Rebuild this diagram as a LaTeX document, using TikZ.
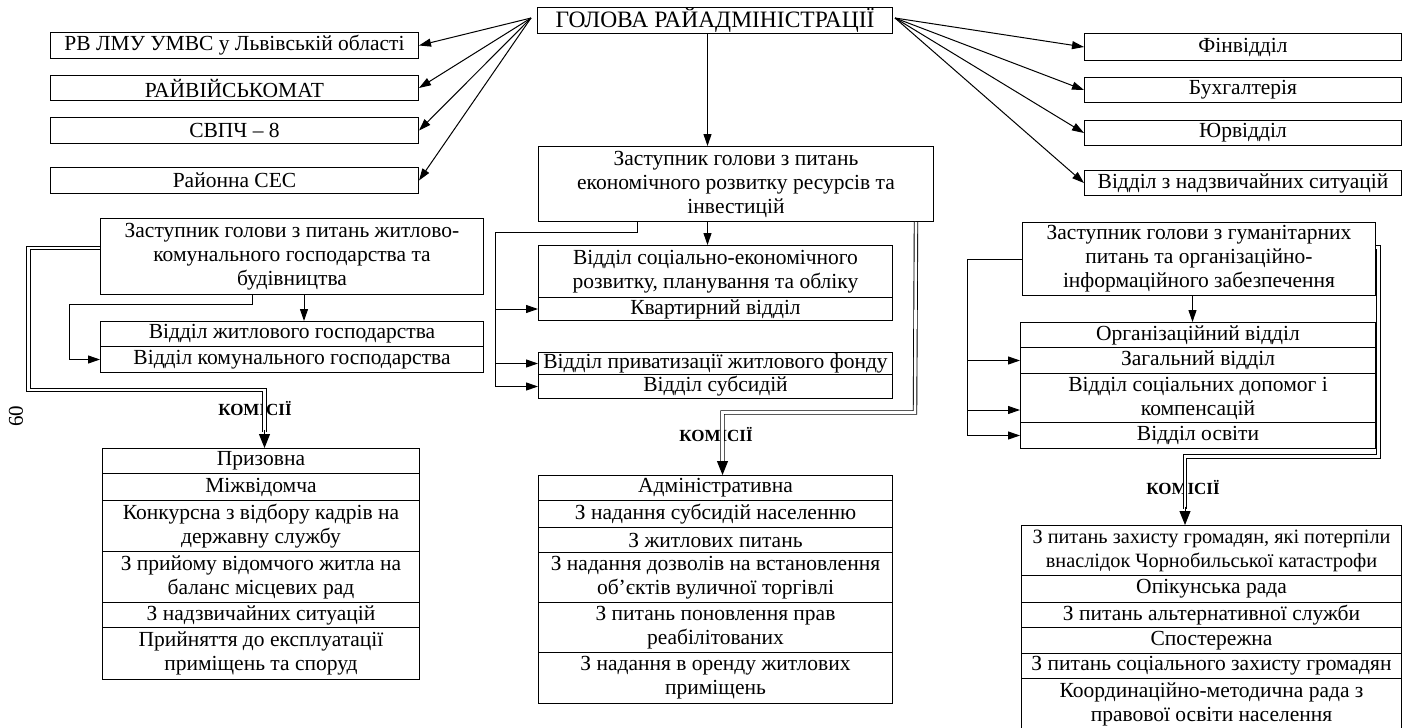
\documentclass[tikz,border=0pt]{standalone}
\usepackage{fontspec}
\setmainfont{Liberation Serif}
\usetikzlibrary{arrows.meta,calc}
\newcommand{\myfs}{\fontsize{21.5}{24}\selectfont}
\newcommand{\mysmall}{\fontsize{20.3}{24}\selectfont}
\newcommand{\bx}[6]{\node[box,minimum width=#4pt,minimum height=#5pt] (#1) at (#2,#3) {#6};}
\begin{document}
\begin{tikzpicture}[x=1pt,y=-1pt,
  box/.style={draw, line width=1pt, inner sep=0pt, align=center, anchor=north west, font=\myfs},
  ln/.style={line width=1pt},
  arr/.style={line width=1pt, -{Triangle[length=12pt,width=8pt]}},
  bigarr/.style={line width=1pt, -{Triangle[length=14pt,width=11pt]}},
  dbl/.style={double, double distance=2.6pt, line width=0.9pt},
  kom/.style={font=\bfseries\fontsize{17}{18}\selectfont, inner sep=0pt}
]
\useasboundingbox (0,0) rectangle (1403,728);
\fill[white] (0,0) rectangle (1403,728);

% head
\bx{head}{537}{7}{355}{26}{\fontsize{23.5}{24}\selectfont ГОЛОВА РАЙАДМІНІСТРАЦІЇ}
% left column
\bx{L1}{50}{32}{368}{26}{РВ ЛМУ УМВС у Львівській області}
\bx{L2}{50}{75}{368}{25}{РАЙВІЙСЬКОМАТ}
\bx{L3}{50}{117}{368}{26}{СВПЧ – 8}
\bx{L4}{50}{167}{368}{26}{Районна СЕС}
% right column
\bx{R1}{1084}{33}{317}{27}{Фінвідділ}
\bx{R2}{1084}{77}{317}{25}{Бухгалтерія}
\bx{R3}{1084}{120}{317}{25}{Юрвідділ}
\bx{R4}{1084}{170}{317}{25}{Відділ з надзвичайних ситуацій}

% deputies
\bx{D1}{100}{218}{383}{76}{Заступник голови з питань житлово-\\комунального господарства та\\будівництва}
\bx{D2}{538}{146}{395}{75}{Заступник голови з питань\\економічного розвитку ресурсів та\\інвестицій}
\bx{D3}{1022}{222}{353}{73}{Заступник голови з гуманітарних\\питань та організаційно-\\інформаційного забезпечення}

% left departments
\bx{J1}{100}{321}{383}{25}{Відділ житлового господарства}
\bx{J2}{100}{346}{383}{26}{Відділ комунального господарства}
% centre departments
\bx{E1}{538}{245}{354}{52}{Відділ соціально-економічного\\розвитку, планування та обліку}
\bx{E2}{538}{297}{354}{23}{Квартирний відділ}
\bx{E3}{538}{352}{354}{22}{Відділ приватизації житлового фонду}
\bx{E4}{538}{374}{354}{24}{Відділ субсидій}
% right departments
\bx{H1}{1020}{322}{355}{25}{Організаційний відділ}
\bx{H2}{1020}{347}{355}{26}{Загальний відділ}
\bx{H3}{1020}{373}{355}{49}{Відділ соціальних допомог і\\компенсацій}
\bx{H4}{1020}{422}{355}{26}{Відділ освіти}

% left commissions
\bx{K1}{102}{448}{317}{25}{Призовна}
\bx{K2}{102}{473}{317}{27}{Міжвідомча}
\bx{K3}{102}{500}{317}{51}{Конкурсна з відбору кадрів на\\державну службу}
\bx{K4}{102}{551}{317}{51}{З прийому відомчого житла на\\баланс місцевих рад}
\bx{K5}{102}{602}{317}{25}{З надзвичайних ситуацій}
\bx{K6}{102}{627}{317}{52}{Прийняття до експлуатації\\приміщень та споруд}
% centre commissions
\bx{C1}{538}{475}{354}{25}{Адміністративна}
\bx{C2}{538}{500}{354}{27}{З надання субсидій населенню}
\bx{C3}{538}{527}{354}{25}{З житлових питань}
\bx{C4}{538}{552}{354}{50}{З надання дозволів на встановлення\\об’єктів вуличної торгівлі}
\bx{C5}{538}{602}{354}{50}{З питань поновлення прав\\реабілітованих}
\bx{C6}{538}{652}{354}{51}{З надання в оренду житлових\\приміщень}
% right commissions
\bx{B1}{1021}{525}{380}{50}{\mysmall З питань захисту громадян, які потерпіли\\\mysmall внаслідок Чорнобильської катастрофи}
\bx{B2}{1021}{575}{380}{27}{Опікунська рада}
\bx{B3}{1021}{602}{380}{25}{З питань альтернативної служби}
\bx{B4}{1021}{627}{380}{26}{Спостережна}
\bx{B5}{1021}{653}{380}{25}{З питань соціального захисту громадян}
\bx{B6}{1021}{678}{380}{52}{Координаційно-методична рада з\\правової освіти населення}

% page number
\node[rotate=90, font=\fontsize{21}{21}\selectfont, inner sep=0pt] (pg) at (16,416) {60};

% commission labels
\node[kom] (kom1) at (255,409) {КОМІСІЇ};
\node[kom] (kom2) at (716,435) {КОМІСІЇ};
\node[kom] (kom3) at (1183,488) {КОМІСІЇ};

% head arrows
\coordinate (hl) at (531,18);
\coordinate (hr) at (895,18);
\foreach \n in {L1,L2,L3,L4} \draw[arr] (hl) -- (\n.east);
\foreach \n in {R1,R2,R3,R4} \draw[arr] (hr) -- (\n.west);
\draw[arr] ([xshift=-7.5pt]head.south) -- ([xshift=-7.5pt]head.south |- D2.north);

% centre branch
\draw[arr] ([xshift=-28.5pt]D2.south) -- ([xshift=-28.5pt]D2.south |- E1.north);
\coordinate (eb) at (495,232);
\draw[ln] ([xshift=99pt]D2.south west) |- (eb) -- (eb |- E4.west);
\draw[arr] (eb |- E2.west) -- (E2.west);
\draw[arr] (eb |- E3.west) -- (E3.west);
\draw[arr] (eb |- E4.west) -- (E4.west);
\coordinate (e1) at (915,412.5);
\coordinate (e2) at (722.5,412.5);
\draw[dbl] ([xshift=-18pt]D2.south east) -- (e1) -- (e2) -- ($(e2)+(0,50)$);
\draw[bigarr] ($(e2)+(0,48)$) -- (e2 |- C1.north);

% left branch
\draw[arr] ([xshift=204pt]D1.south west) -- ([xshift=204pt]D1.south west |- J1.north);
\coordinate (jb) at (69,304);
\draw[arr] ([xshift=152pt]D1.south west) |- (jb) |- (J2.west);
\coordinate (d1a) at (28.5,390);
\coordinate (d1b) at (264.5,390);
\draw[dbl] ([yshift=8.5pt]D1.west) -| (d1a) -- (d1b) -- ($(d1b)+(0,42)$);
\draw[bigarr] ($(d1b)+(0,40)$) -- (d1b |- K1.north);

% right branch
\draw[arr] ([xshift=-6.5pt]D3.south) -- ([xshift=-6.5pt]D3.south |- H1.north);
\coordinate (hb) at (967,259);
\draw[ln] (D3.west |- hb) -- (hb) -- (hb |- H4.west);
\draw[arr] (hb |- H2.west) -- (H2.west);
\draw[arr] ([yshift=-12pt]hb |- H3.west) -- ([yshift=-12pt]H3.west);
\draw[arr] (hb |- H4.west) -- (H4.west);
\coordinate (h1) at (1378.5,456.5);
\coordinate (h2) at (1185,456.5);
\draw[dbl] ([yshift=11.5pt]D3.east) -| (h1) -- (h2) -- ($(h2)+(0,52)$);
\draw[bigarr] ($(h2)+(0,50)$) -- (h2 |- B1.north);
\end{tikzpicture}
\end{document}
